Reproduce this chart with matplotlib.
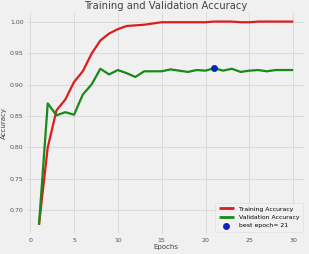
import matplotlib
matplotlib.use("Agg")
import matplotlib.pyplot as plt

epochs = list(range(1, 31))
train_acc = [0.677, 0.800, 0.859, 0.876, 0.904, 0.921, 0.949, 0.970, 0.981, 0.988,
             0.993, 0.994, 0.995, 0.997, 0.999, 0.999, 0.999, 0.999, 0.999, 0.999,
             1.000, 1.000, 1.000, 0.999, 0.999, 1.000, 1.000, 1.000, 1.000, 1.000]
val_acc = [0.677, 0.870, 0.851, 0.856, 0.852, 0.884, 0.900, 0.925, 0.916, 0.923,
           0.918, 0.912, 0.921, 0.921, 0.921, 0.924, 0.922, 0.920, 0.923, 0.922,
           0.926, 0.922, 0.925, 0.920, 0.922, 0.923, 0.921, 0.923, 0.923, 0.923]
best_epoch = 21
best_val = val_acc[best_epoch - 1]

plt.style.use("fivethirtyeight")
fig = plt.figure(figsize=(3.09, 2.54), dpi=100)
fig.patch.set_facecolor("#f0f0f0")
ax = fig.add_axes([0.085, 0.075, 0.905, 0.88])
ax.set_facecolor("#f0f0f0")

ax.plot(epochs, train_acc, color="#e01b1b", lw=1.6, label="Training Accuracy")
ax.plot(epochs, val_acc, color="#178a17", lw=1.6, label="Validation Accuracy")
ax.scatter([best_epoch], [best_val], s=20, color="#0a1fd0", edgecolor="#1a2a80",
           linewidth=0.5, zorder=5, label=f"best epoch= {best_epoch}")

ax.set_title("Training and Validation Accuracy", fontsize=7.2, color="#444444", pad=0.5)
ax.set_xlabel("Epochs", fontsize=5, color="#444444", labelpad=1)
ax.set_ylabel("Accuracy", fontsize=5, color="#444444", labelpad=2)
ax.tick_params(labelsize=4.5, colors="#555555", pad=2, length=0)
ax.set_xticks([0, 5, 10, 15, 20, 25, 30])
ax.grid(True, color="#d6d6d6", lw=0.6)
leg = ax.legend(loc="lower right", fontsize=4.4, frameon=True, handlelength=2.5,
                borderpad=0.6, labelspacing=0.5)
leg.get_frame().set_facecolor("#f2f2f2")
leg.get_frame().set_edgecolor("#dddddd")
for line in leg.get_lines():
    line.set_linewidth(2)

fig.savefig("out.png", dpi=100, facecolor=fig.get_facecolor())
